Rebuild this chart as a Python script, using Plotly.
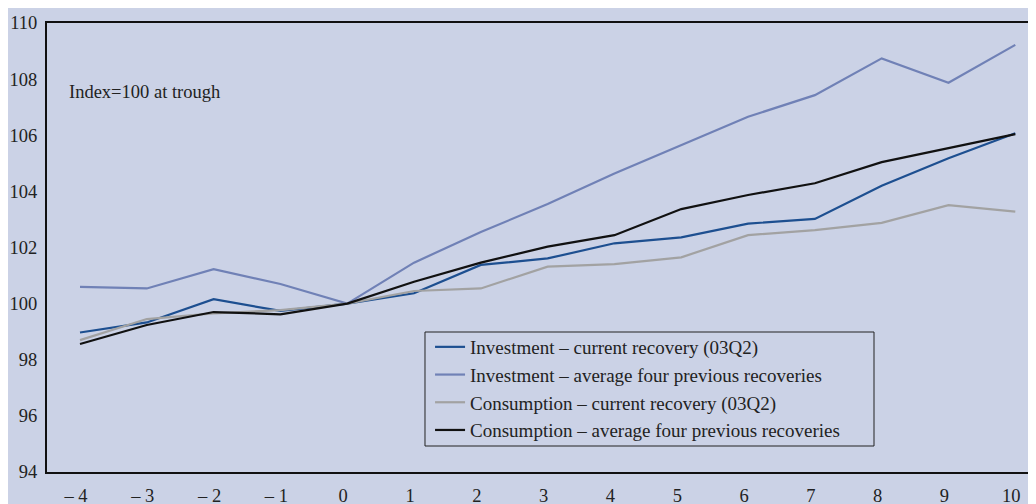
import plotly.graph_objects as go

quarters = [-4, -3, -2, -1, 0, 1, 2, 3, 4, 5, 6, 7, 8, 9, 10]
tick_labels = ["– 4", "– 3", "– 2", "– 1", "0", "1", "2", "3", "4", "5", "6", "7", "8", "9", "10"]

inv_current = [98.97, 99.33, 100.16, 99.74, 100.0, 100.37, 101.38, 101.61, 102.15, 102.36, 102.85, 103.02, 104.2, 105.18, 106.07]
inv_average = [100.6, 100.54, 101.23, 100.7, 100.0, 101.46, 102.55, 103.55, 104.64, 105.65, 106.66, 107.43, 108.74, 107.87, 109.22]
cons_current = [98.7, 99.45, 99.65, 99.77, 100.0, 100.45, 100.54, 101.32, 101.41, 101.65, 102.44, 102.62, 102.88, 103.51, 103.28]
cons_average = [98.56, 99.24, 99.7, 99.62, 100.0, 100.78, 101.46, 102.03, 102.44, 103.37, 103.87, 104.29, 105.04, 105.53, 106.04]

names = [
    "Investment – current recovery (03Q2)",
    "Investment – average four previous recoveries",
    "Consumption – current recovery (03Q2)",
    "Consumption – average four previous recoveries",
]
colors = ["#1d4f90", "#7081b6", "#a2a2a2", "#111111"]
series = [inv_current, inv_average, cons_current, cons_average]

FONT = "Liberation Serif"
BG = "#cbd2e6"

fig = go.Figure()
for name, vals, col in zip(names, series, colors):
    fig.add_trace(go.Scatter(x=quarters, y=vals, mode="lines", name=name,
                             line=dict(color=col, width=2.2)))

# page body has an 8px margin, so the figure is sized/offset to fit the window
fig.update_layout(
    width=1028, height=496,
    margin=dict(l=39, r=0, t=15, b=32),
    paper_bgcolor=BG, plot_bgcolor=BG,
    font=dict(family=FONT, size=18.5, color="#222222"),
    showlegend=True,
    legend=dict(x=0.3873, y=0.3207, xanchor="left", yanchor="top",
                bgcolor="rgba(0,0,0,0)", borderwidth=0,
                font=dict(family=FONT, size=19, color="#222222"),
                tracegroupgap=0),
    shapes=[dict(type="rect", xref="paper", yref="paper",
                 x0=0.3822, x1=0.8362, y0=0.0579, y1=0.3118,
                 line=dict(color="#222222", width=1), fillcolor="rgba(0,0,0,0)")],
    annotations=[dict(text="Index=100 at trough", xref="paper", yref="paper",
                      x=0.02, y=0.846, xanchor="left", yanchor="middle",
                      showarrow=False, font=dict(family=FONT, size=18.5, color="#222222"))],
)
fig.update_xaxes(range=[-4.494, 10.31], tickvals=quarters, ticktext=tick_labels,
                 showgrid=False, zeroline=False, showline=True, linecolor="#111111",
                 linewidth=2, mirror=True, ticks="", ticklabelstandoff=6,
                 ticklabelshift=-4, automargin=False)
fig.update_yaxes(range=[94, 110], tickvals=list(range(94, 111, 2)),
                 showgrid=False, zeroline=False, showline=True, linecolor="#111111",
                 linewidth=2, ticks="", ticklabelstandoff=4, automargin=False)

fig.write_html("out.html")
